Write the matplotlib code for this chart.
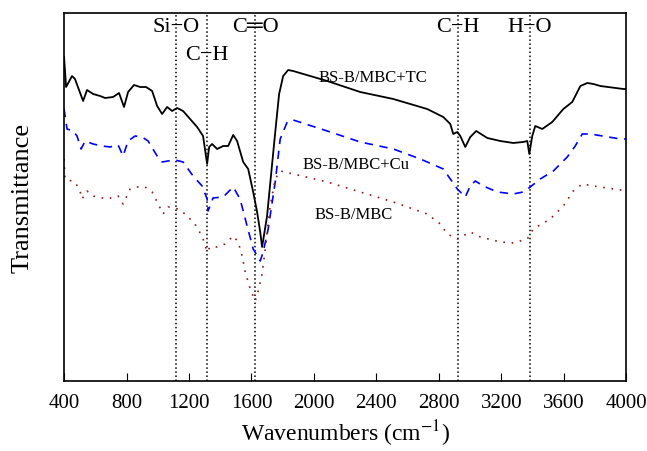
import matplotlib
matplotlib.use('Agg')
import matplotlib.pyplot as plt

plt.rcParams['font.family'] = ['Liberation Serif', 'DejaVu Serif']
plt.rcParams['mathtext.fontset'] = 'stix'

# espectros FTIR (transmitancia em unidades arbitrarias)
wn_tc = [400, 413, 451, 470, 522, 547, 586, 631, 663, 714, 752, 784, 810, 848, 887, 925, 964,
         996, 1028, 1060, 1092, 1124, 1162, 1207, 1252, 1290, 1316, 1329, 1348, 1380, 1419, 1451,
         1483, 1508, 1547, 1579, 1611, 1636, 1656, 1668, 1700, 1726, 1751, 1777, 1803, 1835, 1867,
         1976, 2085, 2296, 2508, 2725, 2828, 2873, 2892, 2918, 2937, 2969, 3001, 3039, 3110, 3193,
         3276, 3340, 3366, 3379, 3398, 3417, 3462, 3526, 3597, 3654, 3706, 3750, 3789, 3834, 3981, 4000]
t_tc = [324, 294, 305, 302, 280, 291, 287, 285, 283, 284, 288, 274, 289, 296, 294, 294, 290,
        275, 267, 274, 270, 273, 270, 262, 254, 245, 217, 234, 237, 232, 235, 235,
        246, 240, 219, 212, 189, 169, 149, 134, 165, 207, 247, 287, 305, 311, 310,
        305, 300, 289, 282, 272, 264, 257, 247, 249, 245, 234, 244, 250, 243, 240,
        238, 239, 240, 227, 245, 255, 252, 259, 272, 279, 295, 298, 297, 295, 292, 292]

wn_cu = [400, 419, 458, 483, 509, 535, 586, 643, 695, 746, 778, 810, 855, 900, 938, 996, 1028,
         1066, 1111, 1162, 1226, 1284, 1316, 1322, 1354, 1419, 1483, 1527, 1572, 1611, 1656, 1675,
         1707, 1752, 1784, 1829, 1867, 2085, 2296, 2508, 2681, 2828, 2873, 2918, 2969, 3001, 3033,
         3084, 3174, 3276, 3340, 3385, 3449, 3533, 3622, 3673, 3718, 3770, 3962, 4000]
t_cu = [272, 252, 250, 245, 232, 240, 237, 235, 234, 236, 225, 240, 245, 244, 240, 225, 219,
        220, 221, 219, 205, 195, 182, 170, 183, 184, 194, 182, 155, 132, 120, 129,
        152, 199, 242, 259, 261, 250, 239, 232, 222, 212, 202, 192, 184, 195, 200,
        195, 189, 187, 189, 194, 202, 210, 224, 235, 247, 247, 242, 242]

wn_bs = [400, 406, 470, 502, 515, 547, 586, 675, 746, 778, 823, 868, 919, 964, 996, 1034, 1066,
         1130, 1175, 1220, 1252, 1290, 1316, 1335, 1380, 1431, 1483, 1515, 1540, 1560, 1592, 1624,
         1643, 1668, 1688, 1720, 1752, 1784, 1867, 2085, 2296, 2508, 2725, 2809, 2854, 2918, 3001,
         3065, 3193, 3276, 3366, 3404, 3513, 3597, 3661, 3718, 3789, 3962, 4000]
t_bs = [222, 202, 199, 190, 182, 190, 185, 182, 185, 177, 192, 194, 194, 189, 179, 167, 174,
        172, 167, 160, 154, 142, 129, 134, 134, 137, 145, 139, 125, 109, 92, 80,
        90, 107, 132, 175, 202, 210, 207, 199, 189, 179, 167, 157, 147, 142, 149,
        144, 139, 138, 142, 152, 162, 175, 190, 197, 195, 191, 191]

# bandas marcadas
bandas = [1115, 1314, 1623, 2922, 3381]
rotulos = ['Si\u2212O', 'C\u2212H', 'C\u2550O', 'C\u2212H', 'H\u2212O']
altura_rotulo = [355, 327, 355, 355, 355]

fig = plt.figure(figsize=(6.47, 4.52), dpi=100)
ax = fig.add_axes([0.099, 0.155, 0.869, 0.814])

ax.plot(wn_tc, t_tc, color='black', lw=1.3)
ax.plot(wn_cu, t_cu, color='#0000ff', lw=1.2, ls=(0, (5, 4)))
ax.plot(wn_bs, t_bs, color='#8b1a1a', lw=1.2, ls=(0, (1, 4)))

for b, r, h in zip(bandas, rotulos, altura_rotulo):
    ax.axvline(b, color='black', ls=':', lw=1.1, zorder=1)
    ax.text(b, h, r, ha='center', va='center', fontsize=16)

ax.text(2027, 304, 'BS-B/MBC+TC', fontsize=12, va='center')
ax.text(1925, 217, 'BS-B/MBC+Cu', fontsize=12, va='center')
ax.text(2001, 167, 'BS-B/MBC', fontsize=12, va='center')

ax.set_xlim(400, 4000)
ax.set_ylim(0, 368)
ax.set_xticks(range(400, 4001, 400))
ax.set_yticks([])
ax.tick_params(axis='x', direction='in', length=6, labelsize=15, pad=9)
for s in ax.spines.values():
    s.set_linewidth(1.2)

ax.set_xlabel('Wavenumbers (cm$^{-1}$)', fontsize=17, labelpad=4)
ax.set_ylabel('Transmittance', fontsize=19, labelpad=22)

plt.savefig('out.png', dpi=100)
